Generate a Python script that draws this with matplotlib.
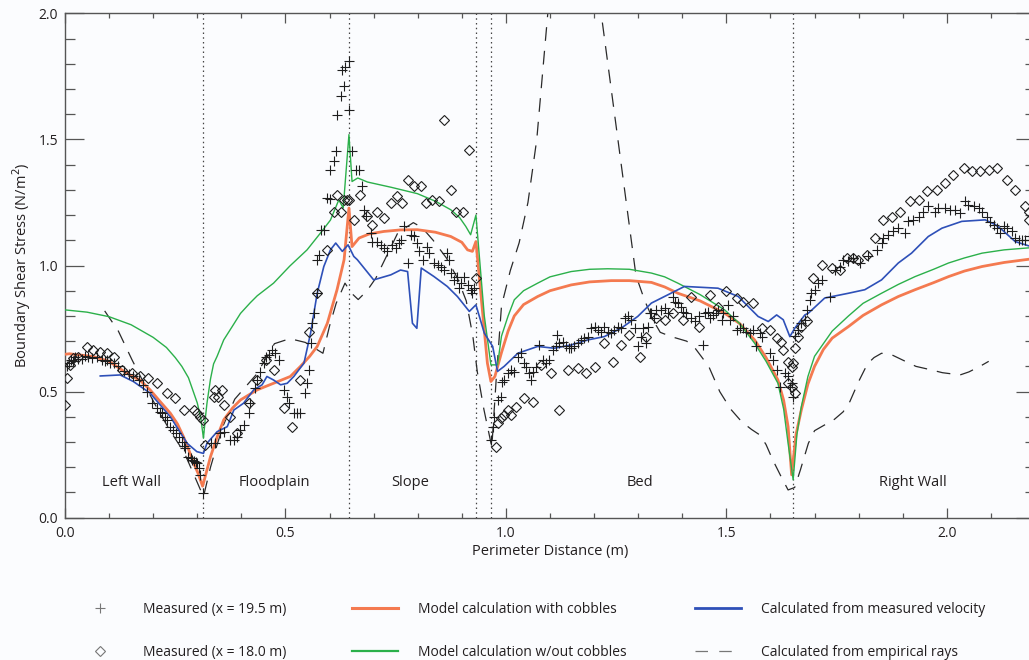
import matplotlib
matplotlib.use("Agg")
import matplotlib.pyplot as plt
from matplotlib.lines import Line2D
from matplotlib.ticker import MultipleLocator, FormatStrFormatter

plt.rcParams['font.family'] = ['Open Sans', 'DejaVu Sans']

# ---------------- data (perimeter distance m, shear stress N/m^2) ----------------
boundaries = [0.314, 0.644, 0.932, 0.966, 1.6515]
region_names = ['Left Wall', 'Floodplain', 'Slope', 'Bed', 'Right Wall']
region_x = [0.1515, 0.475, 0.7825, 1.305, 1.923]
region_y = 0.14

meas195_x = [0.004, 0.008, 0.013, 0.018, 0.022, 0.030, 0.038, 0.045, 0.053, 0.062, 0.072, 0.083, 0.090, 0.095,
             0.103, 0.110, 0.120, 0.133, 0.145, 0.155, 0.167, 0.176, 0.186, 0.197, 0.208, 0.215, 0.220, 0.226,
             0.231, 0.239, 0.246, 0.252, 0.258, 0.265, 0.270, 0.273, 0.280, 0.285, 0.288, 0.293, 0.296, 0.300,
             0.303, 0.307, 0.313,
             0.330, 0.341, 0.352, 0.360, 0.375, 0.383, 0.390, 0.398, 0.405, 0.417, 0.420, 0.432, 0.436, 0.443,
             0.451, 0.455, 0.462, 0.470, 0.477, 0.485, 0.496, 0.504, 0.508, 0.519, 0.527, 0.534, 0.545, 0.549,
             0.553, 0.557, 0.561, 0.564, 0.572, 0.572, 0.576, 0.580, 0.587, 0.595, 0.600, 0.602, 0.610, 0.614,
             0.617, 0.625, 0.629, 0.633, 0.636, 0.644, 0.644, 0.651,
             0.659, 0.667, 0.674, 0.678, 0.682, 0.693, 0.697, 0.708, 0.716, 0.723, 0.731, 0.742, 0.750, 0.758,
             0.761, 0.769, 0.777, 0.784, 0.792, 0.799, 0.803, 0.811, 0.822, 0.826, 0.837, 0.845, 0.852, 0.860,
             0.867, 0.871, 0.875, 0.883, 0.890, 0.894, 0.898, 0.905, 0.913, 0.920, 0.924, 0.928,
             0.966, 0.970, 0.973, 0.981, 0.989, 0.992, 0.996, 1.004, 1.011, 1.019, 1.027, 1.034, 1.042, 1.045,
             1.053, 1.057, 1.061, 1.068, 1.076, 1.083, 1.091, 1.098, 1.106, 1.114, 1.117, 1.121, 1.129, 1.136,
             1.144, 1.148, 1.155, 1.163, 1.170, 1.178, 1.186, 1.193, 1.201, 1.208, 1.216, 1.223, 1.231, 1.239,
             1.246, 1.254, 1.261, 1.269, 1.277, 1.284, 1.292, 1.299, 1.307, 1.311, 1.318, 1.322, 1.326, 1.330,
             1.337, 1.341, 1.352, 1.360, 1.367, 1.379, 1.383, 1.390, 1.398, 1.402, 1.409, 1.420, 1.428, 1.439,
             1.447, 1.451, 1.458, 1.462, 1.470, 1.477, 1.481, 1.489, 1.492, 1.504, 1.508, 1.515, 1.523, 1.530,
             1.538, 1.545, 1.553, 1.561, 1.568, 1.576, 1.580, 1.598, 1.606, 1.614, 1.621, 1.633, 1.640, 1.644,
             1.648, 1.652,
             1.655, 1.663, 1.670, 1.678, 1.682, 1.689, 1.693, 1.701, 1.708, 1.716, 1.735, 1.746, 1.758, 1.765,
             1.777, 1.788, 1.803, 1.822, 1.841, 1.852, 1.856, 1.867, 1.879, 1.890, 1.905, 1.913, 1.924, 1.936,
             1.947, 1.958, 1.973, 1.981, 1.996, 2.008, 2.019, 2.030, 2.042, 2.049, 2.061, 2.072, 2.080, 2.091,
             2.098, 2.106, 2.114, 2.121, 2.129, 2.136, 2.148, 2.155, 2.163, 2.170, 2.178, 2.186]
meas195_y = [0.600, 0.613, 0.626, 0.620, 0.637, 0.630, 0.630, 0.640, 0.637, 0.632, 0.637, 0.626, 0.620, 0.626,
             0.615, 0.613, 0.600, 0.580, 0.570, 0.560, 0.547, 0.525, 0.500, 0.454, 0.434, 0.420, 0.414, 0.400,
             0.388, 0.361, 0.348, 0.335, 0.321, 0.301, 0.285, 0.275, 0.242, 0.235, 0.229, 0.225, 0.222, 0.215,
             0.196, 0.169, 0.097,
             0.295, 0.295, 0.335, 0.341, 0.308, 0.308, 0.321, 0.348, 0.368, 0.414, 0.454, 0.513, 0.546, 0.579,
             0.613, 0.639, 0.646, 0.666, 0.652, 0.626, 0.507, 0.480, 0.454, 0.414, 0.414, 0.414, 0.493, 0.533,
             0.586, 0.692, 0.771, 0.811, 0.891, 1.023, 1.040, 1.140, 1.142, 1.268, 1.265, 1.380, 1.413, 1.453,
             1.598, 1.671, 1.775, 1.710, 1.789, 1.809, 1.618, 1.453,
             1.380, 1.380, 1.314, 1.221, 1.195, 1.128, 1.095, 1.095, 1.082, 1.069, 1.056, 1.082, 1.069, 1.088,
             1.102, 1.155, 1.009, 1.121, 1.115, 1.088, 1.056, 1.023, 1.075, 1.049, 1.009, 1.003, 0.996, 0.983,
             1.049, 1.023, 0.970, 0.943, 0.956, 0.910, 0.930, 0.956, 0.923, 0.903, 0.890, 0.910,
             0.308, 0.361, 0.401, 0.467, 0.480, 0.540, 0.546, 0.573, 0.586, 0.579, 0.639, 0.652, 0.613, 0.599,
             0.573, 0.546, 0.579, 0.599, 0.685, 0.626, 0.613, 0.626, 0.665, 0.679, 0.725, 0.692, 0.698, 0.679,
             0.672, 0.672, 0.679, 0.692, 0.705, 0.712, 0.718, 0.751, 0.758, 0.745, 0.738, 0.758, 0.738, 0.732,
             0.745, 0.758, 0.751, 0.791, 0.798, 0.784, 0.751, 0.679, 0.718, 0.751, 0.692, 0.758, 0.811, 0.811,
             0.791, 0.824, 0.824, 0.831, 0.811, 0.877, 0.857, 0.850, 0.837, 0.817, 0.811, 0.791, 0.778, 0.798,
             0.685, 0.811, 0.817, 0.791, 0.804, 0.811, 0.824, 0.784, 0.811, 0.844, 0.784, 0.798, 0.745, 0.751,
             0.751, 0.738, 0.732, 0.745, 0.679, 0.732, 0.718, 0.652, 0.626, 0.586, 0.520, 0.573, 0.560, 0.520,
             0.533, 0.480,
             0.719, 0.745, 0.771, 0.785, 0.824, 0.864, 0.890, 0.903, 0.930, 0.943, 0.877, 0.983, 0.996, 1.023,
             1.016, 1.029, 1.009, 1.036, 1.062, 1.089, 1.109, 1.122, 1.135, 1.148, 1.128, 1.175, 1.181, 1.194,
             1.214, 1.234, 1.214, 1.227, 1.227, 1.221, 1.221, 1.208, 1.254, 1.240, 1.234, 1.227, 1.214, 1.194,
             1.174, 1.161, 1.148, 1.128, 1.155, 1.148, 1.135, 1.109, 1.102, 1.102, 1.102, 1.115]

meas180_x = [0.000, 0.004, 0.011, 0.019, 0.030, 0.049, 0.064, 0.080, 0.095, 0.110, 0.129, 0.152, 0.170, 0.189,
             0.208, 0.231, 0.250, 0.269, 0.292, 0.299, 0.307, 0.314, 0.318,
             0.337, 0.341, 0.348, 0.356, 0.360, 0.375, 0.390, 0.417, 0.436, 0.455, 0.473, 0.496, 0.515, 0.534,
             0.553, 0.572, 0.595, 0.610, 0.617, 0.625, 0.633, 0.640, 0.644,
             0.655, 0.670, 0.686, 0.697, 0.708, 0.723, 0.739, 0.754, 0.765, 0.777, 0.792, 0.807, 0.818, 0.833,
             0.848, 0.860, 0.875, 0.886, 0.902, 0.917, 0.932,
             0.977, 0.981, 0.989, 0.996, 1.004, 1.011, 1.023, 1.042, 1.061, 1.080, 1.102, 1.121, 1.140, 1.163,
             1.182, 1.201, 1.223, 1.242, 1.261, 1.280, 1.303, 1.318, 1.341, 1.360, 1.379, 1.402, 1.420, 1.439,
             1.462, 1.481, 1.500, 1.523, 1.538, 1.561, 1.580, 1.598, 1.614, 1.625, 1.629, 1.640, 1.648, 1.652,
             1.640, 1.648, 1.655,
             1.655, 1.663, 1.670, 1.682, 1.697, 1.716, 1.739, 1.758, 1.773, 1.788, 1.799, 1.818, 1.837, 1.856,
             1.875, 1.894, 1.917, 1.936, 1.955, 1.977, 1.996, 2.015, 2.038, 2.057, 2.076, 2.095, 2.114, 2.136,
             2.155, 2.178, 2.186, 2.186]
meas180_y = [0.447, 0.553, 0.606, 0.632, 0.639, 0.676, 0.666, 0.659, 0.652, 0.639, 0.586, 0.573, 0.562, 0.553,
             0.536, 0.494, 0.474, 0.427, 0.427, 0.414, 0.401, 0.388, 0.289,
             0.480, 0.507, 0.480, 0.507, 0.447, 0.401, 0.335, 0.454, 0.546, 0.626, 0.586, 0.434, 0.361, 0.546,
             0.738, 0.891, 1.062, 1.214, 1.280, 1.214, 1.260, 1.260, 1.260,
             1.181, 1.280, 1.195, 1.162, 1.214, 1.188, 1.247, 1.274, 1.247, 1.340, 1.314, 1.314, 1.247, 1.260,
             1.254, 1.578, 1.300, 1.214, 1.214, 1.459, 0.950,
             0.282, 0.374, 0.394, 0.407, 0.427, 0.407, 0.440, 0.474, 0.460, 0.606, 0.573, 0.427, 0.586, 0.593,
             0.573, 0.599, 0.692, 0.619, 0.685, 0.725, 0.639, 0.718, 0.791, 0.785, 0.811, 0.785, 0.877, 0.758,
             0.884, 0.837, 0.897, 0.870, 0.857, 0.850, 0.751, 0.745, 0.711, 0.698, 0.665, 0.619, 0.599, 0.612,
             0.533, 0.520, 0.494,
             0.672, 0.718, 0.758, 0.778, 0.950, 1.003, 0.990, 0.983, 1.029, 1.029, 1.023, 1.042, 1.109, 1.181,
             1.194, 1.214, 1.254, 1.261, 1.294, 1.300, 1.327, 1.357, 1.386, 1.373, 1.373, 1.380, 1.386, 1.340,
             1.300, 1.234, 1.214, 1.181]

with_cobbles_x = [0.000, 0.010, 0.064, 0.100, 0.140, 0.170, 0.193, 0.215, 0.239, 0.255, 0.269, 0.280, 0.292,
                  0.302, 0.312, 0.316, 0.330, 0.345, 0.360, 0.380, 0.398, 0.436, 0.473, 0.511, 0.534, 0.555,
                  0.572, 0.595, 0.617, 0.633, 0.644, 0.651, 0.667, 0.690, 0.723, 0.760, 0.799, 0.840, 0.875,
                  0.900, 0.913, 0.924, 0.932, 0.958, 0.966, 0.975, 0.990, 1.005, 1.019, 1.040, 1.072, 1.100,
                  1.148, 1.190, 1.239, 1.280, 1.330, 1.360, 1.390, 1.440, 1.496, 1.530, 1.564, 1.590, 1.617,
                  1.630, 1.640, 1.648, 1.658, 1.670, 1.685, 1.700, 1.720, 1.740, 1.777, 1.810, 1.852, 1.890,
                  1.928, 1.970, 2.004, 2.040, 2.080, 2.130, 2.200]
with_cobbles_y = [0.648, 0.650, 0.639, 0.620, 0.573, 0.545, 0.507, 0.462, 0.414, 0.372, 0.320, 0.272, 0.216,
                  0.175, 0.125, 0.150, 0.242, 0.320, 0.388, 0.435, 0.467, 0.507, 0.533, 0.560, 0.600, 0.640,
                  0.679, 0.771, 0.904, 1.023, 1.228, 1.075, 1.109, 1.125, 1.135, 1.141, 1.142, 1.132, 1.115,
                  1.092, 1.062, 1.056, 1.095, 0.613, 0.540, 0.560, 0.655, 0.740, 0.800, 0.845, 0.877, 0.900,
                  0.923, 0.935, 0.940, 0.940, 0.933, 0.915, 0.890, 0.860, 0.811, 0.770, 0.705, 0.635, 0.546,
                  0.465, 0.361, 0.170, 0.330, 0.427, 0.530, 0.600, 0.667, 0.712, 0.758, 0.802, 0.844, 0.877,
                  0.904, 0.932, 0.956, 0.978, 0.996, 1.012, 1.028]

without_cobbles_x = [0.000, 0.050, 0.100, 0.150, 0.200, 0.230, 0.250, 0.265, 0.280, 0.292, 0.300, 0.308,
                     0.314, 0.318, 0.322, 0.330, 0.337, 0.345, 0.360, 0.380, 0.398, 0.420, 0.436, 0.473,
                     0.510, 0.549, 0.580, 0.602, 0.621, 0.631, 0.644, 0.651, 0.664, 0.686, 0.740, 0.799,
                     0.840, 0.875, 0.895, 0.909, 0.920, 0.932, 0.951, 0.966, 0.981, 0.990, 1.005, 1.019,
                     1.040, 1.072, 1.100, 1.148, 1.190, 1.231, 1.280, 1.330, 1.360, 1.390, 1.440, 1.496,
                     1.530, 1.564, 1.590, 1.617, 1.630, 1.640, 1.6515, 1.660, 1.670, 1.685, 1.700, 1.720,
                     1.740, 1.777, 1.810, 1.852, 1.890, 1.928, 1.970, 2.004, 2.040, 2.080, 2.130, 2.200]
without_cobbles_y = [0.824, 0.815, 0.797, 0.765, 0.715, 0.675, 0.635, 0.600, 0.555, 0.495, 0.455, 0.395,
                     0.315, 0.390, 0.454, 0.550, 0.610, 0.640, 0.705, 0.760, 0.810, 0.852, 0.880, 0.930,
                     0.998, 1.062, 1.130, 1.180, 1.260, 1.228, 1.519, 1.333, 1.347, 1.331, 1.310, 1.285,
                     1.255, 1.221, 1.190, 1.155, 1.122, 1.200, 0.800, 0.606, 0.606, 0.720, 0.800, 0.864,
                     0.900, 0.930, 0.955, 0.976, 0.985, 0.987, 0.985, 0.970, 0.955, 0.930, 0.885, 0.824,
                     0.770, 0.692, 0.620, 0.533, 0.430, 0.295, 0.150, 0.330, 0.440, 0.560, 0.640, 0.690,
                     0.740, 0.800, 0.850, 0.890, 0.925, 0.956, 0.985, 1.010, 1.030, 1.049, 1.062, 1.072]

velocity_x = [0.080, 0.125, 0.155, 0.193, 0.239, 0.277, 0.299, 0.314, 0.322, 0.345, 0.368, 0.383, 0.405,
              0.428, 0.447, 0.458, 0.473, 0.489, 0.504, 0.519, 0.542, 0.557, 0.572, 0.587, 0.602, 0.614,
              0.629, 0.642, 0.655, 0.663, 0.700, 0.739, 0.761, 0.777, 0.788, 0.798, 0.808, 0.837, 0.867,
              0.890, 0.917, 0.932, 0.951, 0.970, 0.981, 0.996, 1.027, 1.072, 1.110, 1.148, 1.186, 1.223,
              1.261, 1.299, 1.330, 1.405, 1.481, 1.527, 1.572, 1.595, 1.614, 1.629, 1.644, 1.655, 1.678,
              1.686, 1.723, 1.777, 1.814, 1.852, 1.890, 1.920, 1.958, 1.989, 2.034, 2.087, 2.110, 2.125,
              2.155, 2.200]
velocity_y = [0.562, 0.566, 0.540, 0.494, 0.400, 0.295, 0.262, 0.255, 0.295, 0.341, 0.361, 0.427, 0.454,
              0.507, 0.527, 0.560, 0.546, 0.527, 0.533, 0.560, 0.613, 0.732, 0.890, 0.996, 1.062, 1.089,
              1.056, 1.082, 1.036, 1.023, 0.943, 0.963, 0.982, 0.976, 0.771, 0.751, 0.990, 0.956, 0.917,
              0.877, 0.818, 0.844, 0.732, 0.679, 0.580, 0.600, 0.652, 0.679, 0.672, 0.685, 0.705, 0.718,
              0.751, 0.798, 0.851, 0.917, 0.910, 0.877, 0.798, 0.778, 0.804, 0.785, 0.718, 0.751, 0.804,
              0.811, 0.871, 0.890, 0.904, 0.943, 1.010, 1.049, 1.115, 1.148, 1.175, 1.181, 1.162, 1.142,
              1.095, 1.070]

rays_x = [0.090, 0.121, 0.152, 0.180, 0.210, 0.240, 0.270, 0.295, 0.314, 0.330, 0.345, 0.360, 0.385, 0.410,
          0.435, 0.455, 0.475, 0.510, 0.545, 0.585, 0.600, 0.615, 0.635, 0.650, 0.665, 0.685, 0.705, 0.730,
          0.755, 0.790, 0.810, 0.835, 0.865, 0.890, 0.910, 0.925, 0.935, 0.950, 0.968, 0.978, 0.990, 1.010,
          1.030, 1.050, 1.070, 1.095, 1.152, 1.216, 1.295, 1.315, 1.335, 1.350, 1.375, 1.410, 1.430, 1.460,
          1.485, 1.510, 1.535, 1.557, 1.576, 1.590, 1.605, 1.625, 1.640, 1.655, 1.668, 1.686, 1.700, 1.720,
          1.745, 1.765, 1.780, 1.800, 1.820, 1.835, 1.852, 1.875, 1.900, 1.930, 1.960, 1.990, 2.030, 2.050,
          2.075, 2.095]
rays_y = [0.820, 0.740, 0.626, 0.530, 0.430, 0.340, 0.260, 0.160, 0.083, 0.200, 0.290, 0.370, 0.470, 0.520,
          0.570, 0.630, 0.690, 0.710, 0.695, 0.652, 0.760, 0.850, 0.930, 0.890, 0.865, 0.900, 0.950, 1.040,
          1.130, 1.170, 1.150, 1.100, 1.030, 0.950, 0.860, 0.720, 0.580, 0.430, 0.280, 0.550, 0.840, 0.980,
          1.090, 1.250, 1.500, 2.000, 2.840, 2.000, 0.960, 0.860, 0.780, 0.735, 0.718, 0.700, 0.670, 0.600,
          0.500, 0.430, 0.380, 0.350, 0.328, 0.290, 0.230, 0.160, 0.110, 0.120, 0.190, 0.295, 0.345, 0.365,
          0.390, 0.420, 0.460, 0.540, 0.610, 0.635, 0.652, 0.646, 0.625, 0.600, 0.588, 0.575, 0.566, 0.578,
          0.600, 0.620]

legend_labels = ['Measured (x = 19.5 m)', 'Measured (x = 18.0 m)',
                 'Model calculation with cobbles', 'Model calculation w/out cobbles',
                 'Calculated from measured velocity', 'Calculated from empirical rays']

# ---------------- style ----------------
BG = '#fbfcfe'
TXT = '#231f20'
ORANGE = '#f47a50'
GREEN = '#2bb04a'
BLUE = '#2e50b8'
DASH = '#2a2a2a'

fig = plt.figure(figsize=(10.29, 6.60), dpi=100, facecolor=BG)
ax = fig.add_axes([65 / 1029, (660 - 517.7) / 660, (1035 - 65) / 1029, (517.7 - 13.3) / 660])
ax.set_facecolor(BG)
ax.set_xlim(0, 2.2)
ax.set_ylim(0, 2.0)

for b in boundaries:
    ax.axvline(b, color='#444444', lw=0.9, ls=(0, (1.2, 2.6)), zorder=1)

ax.plot(rays_x, rays_y, color=DASH, lw=0.9, ls=(0, (11, 8)), zorder=2)
ax.plot(with_cobbles_x, with_cobbles_y, color=ORANGE, lw=2.0, zorder=3)
ax.plot(without_cobbles_x, without_cobbles_y, color=GREEN, lw=1.0, zorder=4)
ax.plot(velocity_x, velocity_y, color=BLUE, lw=1.2, zorder=5)
ax.plot(meas195_x, meas195_y, ls='none', marker='+', ms=6.5, mew=0.8, color='#1e1e1e', zorder=6)
ax.plot(meas180_x, meas180_y, ls='none', marker='D', ms=4.6, mew=0.8, mfc='none', mec='#1e1e1e', zorder=6)

for name, xx in zip(region_names, region_x):
    ax.text(xx, region_y, name, ha='center', va='center', fontsize=10.5, color=TXT)

ax.xaxis.set_major_locator(MultipleLocator(0.5))
ax.xaxis.set_minor_locator(MultipleLocator(0.1))
ax.yaxis.set_major_locator(MultipleLocator(0.5))
ax.yaxis.set_minor_locator(MultipleLocator(0.1))
ax.xaxis.set_major_formatter(FormatStrFormatter('%.1f'))
ax.yaxis.set_major_formatter(FormatStrFormatter('%.1f'))
ax.tick_params(axis='x', which='major', direction='in', length=7.2, width=0.9, top=True, colors='#555555',
               labelcolor=TXT, labelsize=10, pad=6)
ax.tick_params(axis='x', which='minor', direction='in', length=3.6, width=0.9, top=True, colors='#555555')
ax.tick_params(axis='y', which='major', direction='in', length=14, width=0.9, right=True, colors='#555555',
               labelcolor=TXT, labelsize=10, pad=5)
ax.tick_params(axis='y', which='minor', direction='in', length=7, width=0.9, right=True, colors='#555555')
for s in ax.spines.values():
    s.set_color('#555555')
    s.set_linewidth(1.0)

ax.set_xlabel('Perimeter Distance (m)', fontsize=10.5, color=TXT, labelpad=2)
ax.set_ylabel('Boundary Shear Stress (N/m$^2$)', fontsize=10.5, color=TXT, labelpad=4)

# ---------------- legend (three columns) ----------------
handles = [
    Line2D([], [], ls='none', marker='+', ms=6.5, mew=0.8, color='#777777'),
    Line2D([], [], ls='none', marker='D', ms=4.6, mew=0.8, mfc='none', mec='#777777'),
    Line2D([], [], color=ORANGE, lw=2.2),
    Line2D([], [], color=GREEN, lw=1.6),
    Line2D([], [], color=BLUE, lw=2.0),
    Line2D([], [], color='#777777', lw=0.9, ls=(0, (10, 9))),
]
col_x = [77, 352, 695]
for i, cx in enumerate(col_x):
    fig.legend(handles[2 * i:2 * i + 2], legend_labels[2 * i:2 * i + 2], loc='center left',
               bbox_to_anchor=(cx / 1029, 1 - 631 / 660), frameon=False, fontsize=10,
               handlelength=3.3, handletextpad=1.45, labelspacing=2.0, borderpad=0,
               borderaxespad=0, labelcolor=TXT)

fig.savefig('out.png', dpi=100, facecolor=BG)
